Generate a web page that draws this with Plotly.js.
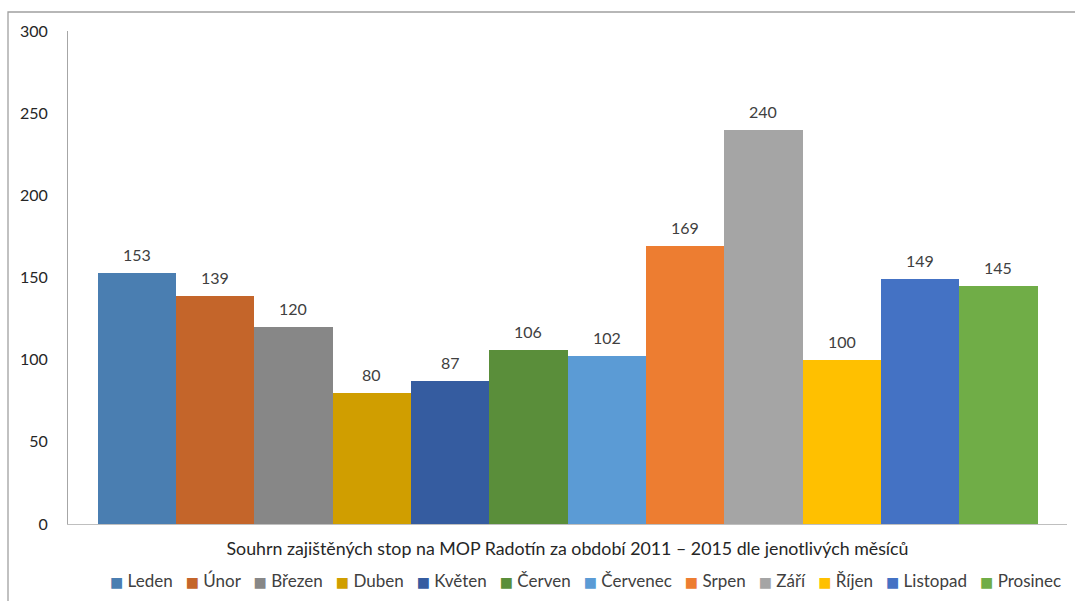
<!DOCTYPE html>
<html>
<head>
<meta charset="utf-8">
<script src="https://cdn.plot.ly/plotly-3.0.1.min.js"></script>
<style>html,body{margin:0;padding:0;background:#fff;}#chart{width:1075px;height:601px;}</style>
</head>
<body>
<div id="chart"></div>
<script>
const months = ["Leden","Únor","Březen","Duben","Květen","Červen","Červenec","Srpen","Září","Říjen","Listopad","Prosinec"];
const values = [153,139,120,80,87,106,102,169,240,100,149,145];
const colors = ["#4A7EB1","#C4652A","#878787","#D09E00","#355CA0","#5A8E3A","#5B9BD5","#ED7D31","#A5A5A5","#FFC000","#4472C4","#70AD47"];
const yTicks = [0,50,100,150,200,250,300];
const axisTitle = "Souhrn zajištěných stop na MOP Radotín za období 2011 – 2015 dle jenotlivých měsíců";

const fontFam = "Lato, 'Open Sans', sans-serif";
const NB = "\u00A0";

const trace = {
  type:"bar",
  x:months,
  y:values,
  marker:{color:colors, line:{width:0}},
  hoverinfo:"x+y",
  showlegend:false
};

const labelAnnotations = months.map((m,i)=>({
  x:m, y:values[i], xref:"x", yref:"y",
  text:String(values[i]), showarrow:false,
  yanchor:"bottom", yshift:7,
  font:{family:fontFam,size:16,color:"#404040"}
}));

const legendText = months.map((m,i)=>
  `<span style="fill:${colors[i]};font-family:'DejaVu Sans';font-size:14px">■</span>${NB}${m}`
).join(NB+NB+NB);

const legendAnnotation = {
  x:0.518, y:-0.1156, xref:"paper", yref:"paper",
  xanchor:"center", yanchor:"middle", showarrow:false,
  text:legendText,
  font:{family:fontFam,size:17,color:"#404040"}
};

const layout = {
  width:1075, height:601,
  margin:{l:68,r:8,t:31,b:77},
  paper_bgcolor:"#fff", plot_bgcolor:"#fff",
  bargap:0,
  font:{family:fontFam,color:"#404040"},
  showlegend:false,
  xaxis:{type:"category", range:[-0.8766,11.8766], showticklabels:false, showgrid:false, zeroline:false,
         showline:true, linecolor:"#BFBFBF", linewidth:1, ticks:"",
         title:{text:axisTitle, font:{family:fontFam,size:17.8,color:"#262626"}, standoff:18}},
  yaxis:{range:[0,300], tickvals:yTicks, ticktext:yTicks.map(String), showgrid:false, zeroline:false,
         showline:true, linecolor:"#A6A6A6", linewidth:1, ticks:"", ticklabelstandoff:16,
         tickfont:{family:fontFam,size:16,color:"#262626"}},
  annotations:[...labelAnnotations, legendAnnotation],
  shapes:[{type:"rect", xref:"paper", yref:"paper", x0:-0.06006, x1:1.2, y0:-1, y1:1.0385,
           line:{color:"#A0A0A0", width:1.3}, fillcolor:"rgba(0,0,0,0)", layer:"above"}]
};
Plotly.newPlot("chart", [trace], layout, {displayModeBar:false, staticPlot:true});
</script>
</body>
</html>
